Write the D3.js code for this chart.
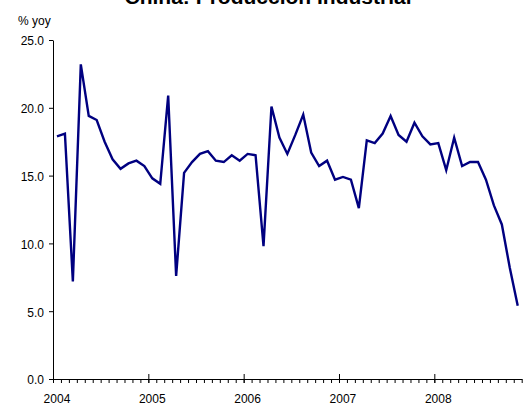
<!DOCTYPE html>
<html>
<head>
<meta charset="utf-8">
<script src="https://cdn.jsdelivr.net/npm/d3@7"></script>
<style>
  html, body { margin: 0; padding: 0; background: #fff; }
  svg { display: block; }
  text { font-family: "Liberation Sans", Arial, sans-serif; fill: #000; }
</style>
</head>
<body>
<svg id="chart" width="526" height="406"></svg>
<script>
const title = "China: Producción Industrial";
const unitLabel = "% yoy";
const years = ["2004", "2005", "2006", "2007", "2008"];
const yTicks = [0, 5, 10, 15, 20, 25];
const values2004 = [17.9, 18.1, 7.2, 23.2, 19.4, 19.1, 17.5, 16.2, 15.5, 15.9, 16.1, 15.7];
const values2005 = [14.8, 14.4, 20.9, 7.6, 15.2, 16.0, 16.6, 16.8, 16.1, 16.0, 16.5, 16.1];
const values2006 = [16.6, 16.5, 9.8, 20.1, 17.8, 16.6, 18.0, 19.5, 16.7, 15.7, 16.1, 14.7];
const values2007 = [14.9, 14.7, 12.6, 17.6, 17.4, 18.1, 19.4, 18.0, 17.5, 18.9, 17.9, 17.3];
const values2008 = [17.4, 15.4, 17.8, 15.7, 16.0, 16.0, 14.7, 12.8, 11.4, 8.2, 5.4];

const values = [].concat(values2004, values2005, values2006, values2007, values2008);
const nMonths = values.length;

const svg = d3.select("#chart");
const plotLeft = 53, plotRight = 521.7, plotTop = 40, plotBottom = 379;

const x = d3.scaleLinear().domain([0, nMonths]).range([plotLeft, plotRight]);
const y = d3.scaleLinear().domain([0, 25]).range([plotBottom, plotTop]);

// Title (partly clipped at the top edge, as in the reference)
svg.append("text")
  .attr("x", 268).attr("y", 4)
  .attr("text-anchor", "middle")
  .style("font-size", "21px").style("font-weight", "bold")
  .text(title);

// Unit label
svg.append("text")
  .attr("x", 18).attr("y", 25)
  .style("font-size", "12px")
  .text(unitLabel);

// Y axis
const yAxis = d3.axisLeft(y).tickValues(yTicks).tickFormat(d3.format(".1f"))
  .tickSizeInner(4).tickSizeOuter(0).tickPadding(5);
const gy = svg.append("g").attr("transform", `translate(${plotLeft},0)`).call(yAxis);
gy.selectAll("text").style("font-size", "12px").attr("dy", "0.4em");
gy.select(".domain").attr("stroke", "#000");
gy.selectAll(".tick line").attr("stroke", "#000");

// X axis minor (monthly) ticks
const monthIdx = d3.range(0, nMonths + 1);
const xMinor = d3.axisBottom(x).tickValues(monthIdx).tickFormat("").tickSizeInner(4).tickSizeOuter(0);
const gx = svg.append("g").attr("transform", `translate(0,${plotBottom})`).call(xMinor);
gx.select(".domain").attr("stroke", "#000");
gx.selectAll(".tick line").attr("stroke", "#000");

// X axis major (yearly) ticks crossing the axis
const yearIdx = years.map((d, i) => i * 12);
const xMajor = d3.axisBottom(x).tickValues(yearIdx).tickFormat("").tickSizeInner(9).tickSizeOuter(0);
const gx2 = svg.append("g").attr("transform", `translate(0,${plotBottom - 5})`).call(xMajor);
gx2.select(".domain").remove();
gx2.selectAll(".tick line").attr("stroke", "#000");

// Year labels
svg.append("g").selectAll("text").data(years).join("text")
  .attr("x", (d, i) => x(i * 12 + 0.5))
  .attr("y", 403)
  .attr("text-anchor", "middle")
  .style("font-size", "12px")
  .text(d => d);

// Line
const line = d3.line().x((d, i) => x(i + 0.5)).y(d => y(d));
svg.append("path")
  .datum(values)
  .attr("fill", "none")
  .attr("stroke", "#000080")
  .attr("stroke-width", 2.4)
  .attr("stroke-linejoin", "miter")
  .attr("d", line);
</script>
</body>
</html>
